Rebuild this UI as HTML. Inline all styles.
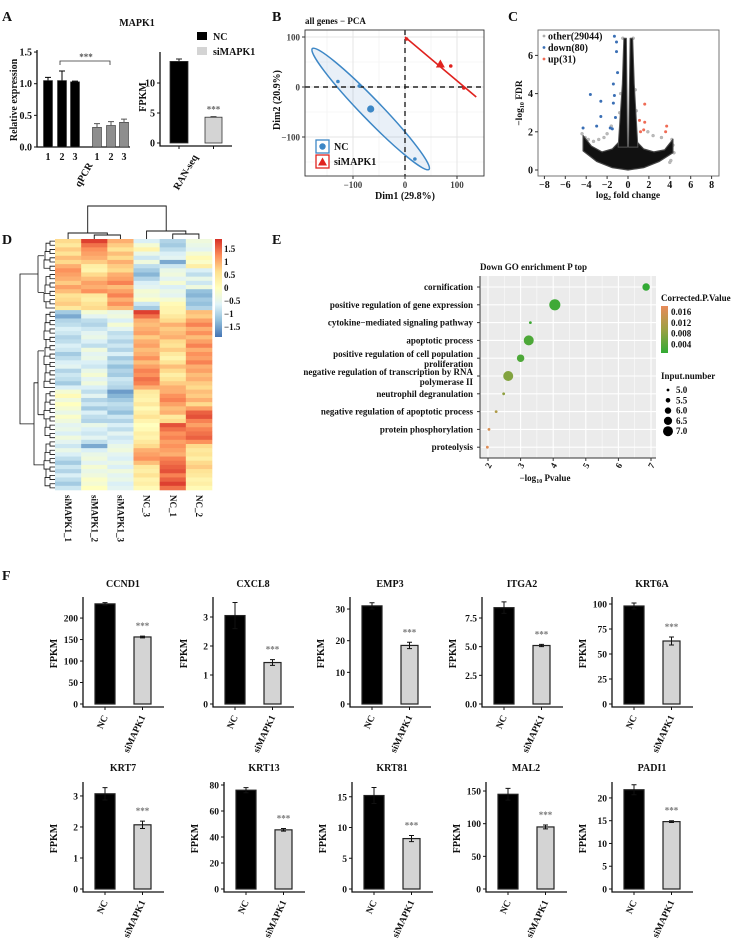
<!DOCTYPE html>
<html><head><meta charset="utf-8"><style>
html,body{margin:0;padding:0;background:#fff;}
svg{display:block;font-family:"Liberation Serif",serif;font-weight:bold;}
</style></head><body>
<svg id="fig" width="744" height="941" viewBox="0 0 744 941" xmlns="http://www.w3.org/2000/svg">
<defs>
<linearGradient id="hmGrad" x1="0" y1="1" x2="0" y2="0">
<stop offset="0" stop-color="#4575B4"/><stop offset="0.1667" stop-color="#91BFDB"/><stop offset="0.333" stop-color="#E0F3F8"/><stop offset="0.5" stop-color="#FFFFBF"/><stop offset="0.667" stop-color="#FEE090"/><stop offset="0.833" stop-color="#FC8D59"/><stop offset="1" stop-color="#D73027"/>
</linearGradient>
<linearGradient id="pGrad" x1="0" y1="0" x2="0" y2="1">
<stop offset="0" stop-color="#e88a5a"/><stop offset="0.5" stop-color="#9ca042"/><stop offset="1" stop-color="#32aa34"/>
</linearGradient>
</defs>
</svg>
<script>
// ---------- DATA ----------
const qpcrNC = [1.05, 1.05, 1.03];
const qpcrNCErr = [0.05, 0.15, 0.01];
const qpcrSi = [0.31, 0.34, 0.39];
const qpcrSiErr = [0.06, 0.06, 0.05];
const qpcrTicks = [0.0, 0.5, 1.0, 1.5];
const qpcrTickLabels = ["0.0", "0.5", "1.0", "1.5"];
const rnaVals = [13.6, 4.3];
const rnaErr = [0.4, 0.08];
const rnaTicks = [0, 5, 10];

const pcaNC = [[-129, 11], [-88, 2], [19, -144]];
const pcaSi = [[3, 96], [88, 42], [113, -2]];
const pcaNCMean = [-66, -44];
const pcaSiMean = [68, 45];
const pcaXTicks = [-100, 0, 100];
const pcaYTicks = [-100, 0, 100];

const volcDown = [[-1.3,7.0],[-1.1,6.7],[-1.1,6.2],[-1.0,5.1],[-1.4,4.5],[-1.3,3.9],[-3.6,3.95],[-2.6,3.6],[-1.4,3.5],[-2.6,2.8],[-1.2,2.75],[-3.0,2.3],[-1.7,2.2],[-1.5,2.15],[-4.3,2.2]];
const volcUp = [[1.6,3.45],[1.1,2.6],[1.6,2.5],[1.2,2.0],[1.5,2.1],[3.7,2.3],[3.6,2.0]];
const volcOther = [[-4.4,1.9],[-4.1,1.7],[-3.8,1.6],[-3.3,1.5],[-2.8,1.6],[-2.3,1.7],[-2.0,1.9],[-1.6,2.3],[4.2,1.6],[4.3,1.3],[4.4,0.9],[4.1,0.5],[4.0,0.4],[3.2,1.7],[2.4,1.8],[1.9,2.0],[-0.5,6.9],[0.5,6.9],[-0.3,6.5],[0.3,6.6],[-0.7,4.0],[0.7,4.2],[-0.8,3.0],[0.8,3.1]];
const volcBowl = [[-4.3,1.8],[-3.5,1.25],[-2.5,0.95],[-1.5,1.1],[-0.8,1.5],[0,1.3],[0.8,1.5],[1.5,1.1],[2.5,0.95],[3.5,1.05],[4.3,1.6],[4.3,0.9],[3.0,0.45],[1.5,0.12],[0,0],[-1.5,0.12],[-3.0,0.45],[-4.3,1.0]];
const volcSpikeL = [[-0.95,1.2],[-0.55,4.5],[-0.4,6.9],[-0.15,6.9],[-0.05,1.2]];
const volcSpikeR = [[0.05,1.2],[0.2,6.9],[0.45,6.9],[0.6,4.5],[0.95,1.2]];
const volcXTicks = [-8,-6,-4,-2,0,2,4,6,8];
const volcYTicks = [0,2,4,6];

const hmCols = ["siMAPK1_1","siMAPK1_2","siMAPK1_3","NC_3","NC_1","NC_2"];
const hmRows = [
[0.6,1.6,0.9,-0.6,-0.9,-0.3],[0.4,1.3,0.7,-0.2,-1.0,-0.4],[0.7,1.1,0.5,0.2,-0.8,-0.5],[0.5,1.0,0.8,-0.4,-0.6,-0.2],
[0.8,0.9,0.6,-0.7,-0.5,0.1],[0.6,0.7,0.9,-0.3,-1.3,-0.1],[0.9,0.3,0.7,-0.8,-0.7,0.3],[1.1,0.2,0.6,-1.0,-0.4,-0.6],
[1.0,0.6,0.9,-1.2,-0.3,-0.8],[0.9,0.8,1.0,-0.9,-0.5,-0.4],[0.7,1.0,1.2,-0.6,-0.2,-0.7],[1.0,0.9,0.8,-0.5,-0.6,-0.3],
[0.8,1.1,1.0,-0.2,-0.4,-1.1],[0.5,0.4,1.2,-0.3,-0.5,-1.2],[0.6,0.3,0.9,-0.1,-0.2,-1.0],[0.7,0.5,1.1,-0.7,0.1,-1.1],
[0.4,0.6,0.8,-1.0,0.2,-0.9],
[-1.0,-0.2,-0.4,1.6,0.2,0.8],[-1.3,-0.5,-0.3,1.3,0.4,0.7],[-0.9,-0.8,-0.6,0.9,0.6,1.0],[-0.8,-0.9,-0.2,0.8,0.9,1.2],
[-0.6,-0.7,-0.5,0.9,0.7,0.9],[-0.7,-0.5,-0.8,1.0,0.8,1.1],[-0.9,-0.4,-0.7,0.7,0.9,0.8],[-0.8,-0.6,-0.9,0.9,0.6,1.0],
[-0.6,-0.8,-0.7,1.0,0.5,1.2],[-0.7,-0.3,-0.9,0.8,0.7,0.9],[-1.0,-0.5,-0.6,0.9,0.4,1.1],[-0.8,-0.4,-1.0,1.1,0.2,1.0],
[-0.6,-0.6,-0.8,0.8,0.5,1.2],[-0.5,-0.7,-1.1,1.0,0.8,0.9],[-0.9,-0.4,-0.9,1.2,0.6,1.0],[-0.7,-0.2,-1.0,1.1,0.3,0.8],
[-0.8,-0.5,-0.7,1.3,0.5,0.9],[-1.0,-0.3,-0.8,1.2,0.7,0.7],[-0.6,-0.6,-0.9,0.9,0.9,0.6],[-0.2,-0.8,-1.4,0.4,0.9,0.8],
[0.1,-0.5,-1.2,0.3,1.1,0.7],[-0.3,-0.9,-1.0,0.2,1.2,0.9],[0.0,-0.7,-0.8,0.4,1.0,0.6],[-0.2,-1.0,-0.9,0.1,0.8,1.0],
[-0.4,-0.6,-1.1,0.3,0.9,1.4],[-0.1,-0.8,-0.7,0.5,0.4,1.5],[-0.3,-0.9,-0.9,0.2,0.6,1.2],[-0.5,-0.4,-0.6,0.0,1.5,1.0],
[-0.4,-0.6,-0.8,0.1,1.3,1.2],[-0.6,-0.7,-0.5,0.3,1.1,1.3],[-0.3,-0.5,-0.7,0.2,1.2,1.4],[-0.5,-0.8,-0.6,0.4,1.0,1.1],
[-0.7,-1.3,-0.4,0.6,1.1,0.6],[-0.4,-0.6,-0.3,0.9,1.0,0.4],[-0.6,-0.4,-0.5,1.0,0.9,0.5],[-0.8,-0.3,-0.6,1.1,1.2,0.3],
[-1.0,-0.5,-0.4,0.8,1.3,0.6],[-0.7,-0.2,-0.6,0.4,1.4,0.7],[-0.9,-0.4,-0.3,0.3,1.5,0.5],[-0.6,-0.3,-0.5,0.5,1.2,0.4],
[-0.8,-0.1,-0.4,0.2,1.4,0.2],[-1.0,-0.2,-0.6,0.3,1.6,0.3],[-0.7,0.0,-0.5,0.1,1.3,0.1]];
const hmLegendTicks = [1.5,1,0.5,0,-0.5,-1,-1.5];
const hmLegendLabels = ["1.5","1","0.5","0","\u22120.5","\u22121","\u22121.5"];

const goTerms = [["cornification"],["positive regulation of gene expression"],["cytokine\u2212mediated signaling pathway"],["apoptotic process"],["positive regulation of cell population","proliferation"],["negative regulation of transcription by RNA","polymerase II"],["neutrophil degranulation"],["negative regulation of apoptotic process"],["protein phosphorylation"],["proteolysis"]];
const goLogP = [6.85, 4.05, 3.3, 3.25, 3.0, 2.62, 2.48, 2.25, 2.03, 1.98];
const goCount = [6.3, 7.3, 5.0, 7.0, 6.3, 7.0, 5.0, 5.0, 5.0, 5.0];
const goPadj = [0.002, 0.003, 0.003, 0.004, 0.004, 0.008, 0.009, 0.012, 0.016, 0.017];
const goXTicks = [2,3,4,5,6,7];
const goPLegend = [0.016, 0.012, 0.008, 0.004];
const goSizeLegend = [5.0, 5.5, 6.0, 6.5, 7.0];

const geneNames = ["CCND1","CXCL8","EMP3","ITGA2","KRT6A","KRT7","KRT13","KRT81","MAL2","PADI1"];
const ncVals = [233, 3.05, 31, 8.4, 98, 3.07, 76, 15.2, 145, 21.8];
const ncErr = [3, 0.45, 1, 0.5, 3, 0.2, 2, 1.3, 9, 1.1];
const siVals = [156, 1.43, 18.5, 5.1, 63, 2.07, 45.5, 8.2, 95, 14.8];
const siErr = [2, 0.1, 1, 0.1, 4, 0.12, 1, 0.5, 3, 0.2];
const geneTicks = [[0,50,100,150,200],[0,1,2,3],[0,10,20,30],[0,2.5,5,7.5],[0,25,50,75,100],[0,1,2,3],[0,20,40,60,80],[0,5,10,15],[0,50,100,150],[0,5,10,15,20]];
const geneTickLabels = [["0","50","100","150","200"],["0","1","2","3"],["0","10","20","30"],["0.0","2.5","5.0","7.5"],["0","25","50","75","100"],["0","1","2","3"],["0","20","40","60","80"],["0","5","10","15"],["0","50","100","150"],["0","5","10","15","20"]];
const geneYMax = [249, 3.69, 33.8, 9.33, 107, 3.45, 82.3, 17.4, 163.8, 23.5];

// ---------- HELPERS ----------
const NS = "http://www.w3.org/2000/svg";
const svg = document.getElementById('fig');
function mk(tag, attrs, parent) {
  const e = document.createElementNS(NS, tag);
  for (const k in attrs) e.setAttribute(k, attrs[k]);
  (parent || svg).appendChild(e);
  return e;
}
function tx(x, y, s, attrs, parent) {
  const a = Object.assign({x: x, y: y, 'font-size': 10, fill: '#111'}, attrs || {});
  const e = mk('text', a, parent);
  e.textContent = s;
  return e;
}
function grp(parent) { return mk('g', {}, parent); }

// ---------- PANEL LETTERS ----------
[["A",2,21],["B",272,21],["C",508,21],["D",2,244],["E",272,244],["F",2,580]].forEach(p => {
  const t = tx(p[1], p[2], p[0], {'font-size': 14});
  
  
});

// ---------- PANEL A ----------
const gA = grp();


{
  const t = tx(137, 26, "MAPK1", {'text-anchor': 'middle', 'font-size': 10}, gA);
  
  
  const yq = v => 147 - v * 63.3;
  const ax = mk('path', {d: 'M37,50 V147 H130', stroke: '#111', 'stroke-width': 1.3, fill: 'none'}, gA);
  
  
  qpcrTicks.forEach((v, i) => {
    mk('line', {x1: 34, x2: 37, y1: yq(v), y2: yq(v), stroke: '#111'}, gA);
    const t = tx(32, yq(v) + 3.5, qpcrTickLabels[i], {'text-anchor': 'end', 'font-size': 10}, gA);
    
    
  });
  const yl = tx(0, 0, "Relative expression", {'text-anchor': 'middle', 'font-size': 10, transform: 'translate(17,100) rotate(-90)'}, gA);
  
  
  const xsNC = [48, 62, 75], xsSi = [97, 111, 124];
  const drawBar = (cx, v, err, fill, name) => {
    const b = mk('rect', {x: cx - 4.5, y: yq(v), width: 9, height: yq(0) - yq(v), fill: fill, stroke: '#333', 'stroke-width': 0.6}, gA);
    
    
    const e = mk('path', {d: `M${cx},${yq(v)} V${yq(v + err)} M${cx - 3},${yq(v + err)} H${cx + 3}`, stroke: fill === '#000' ? '#000' : '#555', 'stroke-width': 1}, gA);
    
    
  };
  qpcrNC.forEach((v, i) => drawBar(xsNC[i], v, qpcrNCErr[i], '#000', 'qpcr-bar-nc-' + (i + 1)));
  qpcrSi.forEach((v, i) => drawBar(xsSi[i], v, qpcrSiErr[i], '#8e8e8e', 'qpcr-bar-si-' + (i + 1)));
  xsNC.concat(xsSi).forEach((cx, i) => {
    const t = tx(cx, 160, String(i % 3 + 1), {'text-anchor': 'middle', 'font-size': 10}, gA);
    
    
  });
  const br = mk('path', {d: 'M60,65 V61 H110 V65', stroke: '#333', fill: 'none', 'stroke-width': 0.8}, gA);
  
  
  const st = tx(86, 60, "***", {'text-anchor': 'middle', 'font-size': 9, fill: '#555'}, gA);
  
  
  const ql = tx(0, 0, "qPCR", {'text-anchor': 'end', 'font-size': 10, transform: 'translate(93,165) rotate(-60)'}, gA);
  
  

  const yr = v => 143 - v * 6;
  const ax2 = mk('path', {d: 'M160,52 V146 H232', stroke: '#111', 'stroke-width': 1.3, fill: 'none'}, gA);
  
  
  rnaTicks.forEach(v => {
    mk('line', {x1: 157, x2: 160, y1: yr(v), y2: yr(v), stroke: '#111'}, gA);
    const t = tx(155, yr(v) + 3.5, String(v), {'text-anchor': 'end', 'font-size': 10}, gA);
    
    
  });
  const fl = tx(0, 0, "FPKM", {'text-anchor': 'middle', 'font-size': 10, transform: 'translate(146,97) rotate(-90)'}, gA);
  
  
  const rx = [179, 213.5], rw = [18, 17];
  rnaVals.forEach((v, i) => {
    const b = mk('rect', {x: rx[i] - rw[i] / 2, y: yr(v), width: rw[i], height: yr(0) - yr(v), fill: i ? '#d4d4d4' : '#000', stroke: '#333', 'stroke-width': 0.8}, gA);
    
    
    const e = mk('path', {d: `M${rx[i]},${yr(v)} V${yr(v + rnaErr[i])} M${rx[i] - 3},${yr(v + rnaErr[i])} H${rx[i] + 3}`, stroke: '#222', 'stroke-width': 1}, gA);
    
    
  });
  const st2 = tx(213.5, yr(rnaVals[1] + rnaErr[1]) - 4, "***", {'text-anchor': 'middle', 'font-size': 9, fill: '#666'}, gA);
  
  
  mk('line', {x1: 179, x2: 179, y1: 146, y2: 149, stroke: '#111'}, gA);
  mk('line', {x1: 213.5, x2: 213.5, y1: 146, y2: 149, stroke: '#111'}, gA);
  const rl = tx(0, 0, "RAN-seq", {'text-anchor': 'end', 'font-size': 10, transform: 'translate(198,157) rotate(-60)'}, gA);
  
  
  const l1 = mk('rect', {x: 197, y: 32, width: 10, height: 8, fill: '#000'}, gA);
  
  
  const l2 = mk('rect', {x: 197, y: 47, width: 10, height: 8, fill: '#d4d4d4'}, gA);
  
  
  const lt1 = tx(213, 40, "NC", {'font-size': 10}, gA);
  
  
  const lt2 = tx(213, 55, "siMAPK1", {'font-size': 10}, gA);
  
  
}

// ---------- PANEL B (PCA) ----------
const gB = grp();


{
  const px = v => 405 + v * 0.52, py = v => 87 - v * 0.5;
  const tt = tx(305, 24, "all genes \u2212 PCA", {'font-size': 9}, gB);
  
  
  [-150, -50, 50].forEach(v => mk('line', {x1: px(v), x2: px(v), y1: 30, y2: 176, stroke: '#f0f0f0', 'stroke-width': 0.6}, gB));
  [-150, -50, 50].forEach(v => mk('line', {x1: 305, x2: 484, y1: py(v), y2: py(v), stroke: '#f0f0f0', 'stroke-width': 0.6}, gB));
  pcaXTicks.forEach(v => mk('line', {x1: px(v), x2: px(v), y1: 30, y2: 176, stroke: '#e4e4e4', 'stroke-width': 1}, gB));
  pcaYTicks.forEach(v => mk('line', {x1: 305, x2: 484, y1: py(v), y2: py(v), stroke: '#e4e4e4', 'stroke-width': 1}, gB));
  const cx = px(pcaNCMean[0]), cy = py(pcaNCMean[1]);
  const el = mk('ellipse', {cx: cx, cy: cy, rx: 84, ry: 10, transform: `rotate(46 ${cx} ${cy})`, fill: 'rgba(70,130,200,0.12)', stroke: '#3d87c6', 'stroke-width': 1.5}, gB);
  
  
  const rlne = mk('line', {x1: px(0), y1: py(100), x2: px(137), y2: py(-20), stroke: '#e0221e', 'stroke-width': 1.6}, gB);
  
  
  const dv = mk('line', {x1: px(0), x2: px(0), y1: 30, y2: 176, stroke: '#222', 'stroke-width': 1.4, 'stroke-dasharray': '5,4'}, gB);
  
  
  const dh = mk('line', {x1: 305, x2: 484, y1: py(0), y2: py(0), stroke: '#222', 'stroke-width': 1.4, 'stroke-dasharray': '5,4'}, gB);
  
  
  pcaNC.forEach(p => {
    const c = mk('circle', {cx: px(p[0]), cy: py(p[1]), r: 1.8, fill: '#3d87c6'}, gB);
    
    
  });
  const mc = mk('circle', {cx: cx, cy: cy, r: 3.6, fill: '#3d87c6'}, gB);
  
  
  pcaSi.forEach(p => {
    const c = mk('circle', {cx: px(p[0]), cy: py(p[1]), r: 1.8, fill: '#e0221e'}, gB);
    
    
  });
  const sx = px(pcaSiMean[0]), sy = py(pcaSiMean[1]);
  const tri = mk('path', {d: `M${sx},${sy - 5} L${sx + 4.5},${sy + 3} L${sx - 4.5},${sy + 3} Z`, fill: '#e0221e'}, gB);
  
  
  const box = mk('rect', {x: 305, y: 30, width: 179, height: 146, fill: 'none', stroke: '#333', 'stroke-width': 0.9}, gB);
  
  
  pcaYTicks.forEach(v => {
    mk('line', {x1: 302, x2: 305, y1: py(v), y2: py(v), stroke: '#333'}, gB);
    const t = tx(300, py(v) + 3.5, v < 0 ? "\u2212" + (-v) : String(v), {'text-anchor': 'end', 'font-size': 9, fill: '#444'}, gB);
    
    
  });
  pcaXTicks.forEach(v => {
    mk('line', {x1: px(v), x2: px(v), y1: 176, y2: 179, stroke: '#333'}, gB);
    const t = tx(px(v), 188, v < 0 ? "\u2212" + (-v) : String(v), {'text-anchor': 'middle', 'font-size': 9, fill: '#444'}, gB);
    
    
  });
  const xl = tx(405, 199, "Dim1 (29.8%)", {'text-anchor': 'middle', 'font-size': 10}, gB);
  
  
  const yl = tx(0, 0, "Dim2 (20.9%)", {'text-anchor': 'middle', 'font-size': 10, transform: 'translate(280,100) rotate(-90)'}, gB);
  
  
  const lb1 = mk('rect', {x: 316, y: 140, width: 13, height: 13, fill: '#fff', stroke: '#3d87c6', 'stroke-width': 1.3}, gB);
  
  
  mk('circle', {cx: 322.5, cy: 146.5, r: 3.2, fill: '#3d87c6'}, gB);
  const lb2 = mk('rect', {x: 316, y: 155, width: 13, height: 13, fill: '#fff', stroke: '#e0221e', 'stroke-width': 1.3}, gB);
  
  
  mk('path', {d: 'M322.5,157.5 L327,165.5 L318,165.5 Z', fill: '#e0221e'}, gB);
  const lt1 = tx(334, 150, "NC", {'font-size': 10}, gB);
  
  
  const lt2 = tx(334, 165, "siMAPK1", {'font-size': 10}, gB);
  
  
}

// ---------- PANEL C (Volcano) ----------
const gC = grp();


{
  const vx = v => 628 + v * 10.45, vy = v => 170 - v * 19.1;
  const box = mk('rect', {x: 538, y: 30, width: 181, height: 146, fill: '#fff', stroke: '#666', 'stroke-width': 0.9}, gC);
  
  
  volcOther.forEach(p => {
    const c = mk('circle', {cx: vx(p[0]), cy: vy(p[1]), r: 1.5, fill: '#bbb', stroke: '#999', 'stroke-width': 0.3}, gC);
    
    
  });
  const poly = arr => 'M' + arr.map(p => vx(p[0]).toFixed(1) + ',' + vy(p[1]).toFixed(1)).join(' L') + ' Z';
  const bowl = mk('path', {d: poly(volcBowl), fill: '#111', stroke: '#444', 'stroke-width': 1.2, 'stroke-linejoin': 'round'}, gC);
  
  
  const sl = mk('path', {d: poly(volcSpikeL), fill: '#111', stroke: '#555', 'stroke-width': 1, 'stroke-linejoin': 'round'}, gC);
  
  
  const sr = mk('path', {d: poly(volcSpikeR), fill: '#111', stroke: '#555', 'stroke-width': 1, 'stroke-linejoin': 'round'}, gC);
  
  
  volcDown.forEach(p => {
    const c = mk('circle', {cx: vx(p[0]), cy: vy(p[1]), r: 1.5, fill: '#3a6fb5'}, gC);
    
    
  });
  volcUp.forEach(p => {
    const c = mk('circle', {cx: vx(p[0]), cy: vy(p[1]), r: 1.5, fill: '#ef6b55'}, gC);
    
    
  });
  volcXTicks.forEach(v => {
    mk('line', {x1: vx(v), x2: vx(v), y1: 176, y2: 179, stroke: '#333'}, gC);
    const t = tx(vx(v), 188, v < 0 ? "\u2212" + (-v) : String(v), {'text-anchor': 'middle', 'font-size': 10}, gC);
    
    
  });
  volcYTicks.forEach(v => {
    mk('line', {x1: 535, x2: 538, y1: vy(v), y2: vy(v), stroke: '#333'}, gC);
    const t = tx(533, vy(v) + 3.5, String(v), {'text-anchor': 'end', 'font-size': 10}, gC);
    
    
  });
  const xl = mk('text', {x: 628, y: 198, 'text-anchor': 'middle', 'font-size': 9.5, fill: '#111'}, gC);
  xl.innerHTML = 'log<tspan font-size="6" dy="2">2</tspan><tspan dy="-2"> fold change</tspan>';
  
  
  const yl = mk('text', {'text-anchor': 'middle', 'font-size': 9.5, fill: '#111', transform: 'translate(522,103) rotate(-90)'}, gC);
  yl.innerHTML = '\u2212log<tspan font-size="6" dy="2">10</tspan><tspan dy="-2"> FDR</tspan>';
  
  
  [["other(29044)", '#aaa'], ["down(80)", '#3a6fb5'], ["up(31)", '#ef6b55']].forEach((l, i) => {
    const c = mk('circle', {cx: 544, cy: 36 + i * 11.5, r: 1.4, fill: l[1]}, gC);
    
    
    const t = tx(548, 39.5 + i * 11.5, l[0], {'font-size': 10}, gC);
    
    
  });
}

// ---------- PANEL D (Heatmap) ----------
const gD = grp();


{
  const stops = [[-1.7,[69,117,180]],[-1.133,[145,191,219]],[-0.567,[224,243,248]],[0,[255,255,191]],[0.567,[254,224,144]],[1.133,[252,141,89]],[1.7,[215,48,39]]];
  const col = v => {
    v = Math.max(-1.7, Math.min(1.7, v));
    for (let i = 0; i < stops.length - 1; i++) {
      if (v <= stops[i + 1][0]) {
        const t = (v - stops[i][0]) / (stops[i + 1][0] - stops[i][0]);
        const a = stops[i][1], b = stops[i + 1][1];
        return `rgb(${Math.round(a[0] + (b[0] - a[0]) * t)},${Math.round(a[1] + (b[1] - a[1]) * t)},${Math.round(a[2] + (b[2] - a[2]) * t)})`;
      }
    }
    return 'rgb(215,48,39)';
  };
  const x0 = 55, y0 = 239, cw = 157 / hmCols.length, rh = 251 / hmRows.length;
  hmRows.forEach((row, r) => row.forEach((v, c) => {
    const cell = mk('rect', {x: x0 + c * cw, y: y0 + r * rh, width: cw + 0.3, height: rh + 0.3, fill: col(v)}, gD);
    
    
  }));
  hmCols.forEach((n, c) => {
    const t = tx(0, 0, n, {'font-size': 9, transform: `translate(${x0 + c * cw + cw / 2 - 3},495) rotate(90)`}, gD);
    
    
  });
  const cxs = hmCols.map((n, c) => x0 + c * cw + cw / 2);
  const td = mk('path', {d: `M${cxs[1]},239 V235 H${cxs[2]} V239 M${cxs[0]},239 V233 H${(cxs[1] + cxs[2]) / 2} V235 M${cxs[4]},239 V234 H${cxs[5]} V239 M${cxs[3]},239 V231 H${(cxs[4] + cxs[5]) / 2} V234 M${(cxs[0] + (cxs[1] + cxs[2]) / 2) / 2},233 V206 H${(cxs[3] + (cxs[4] + cxs[5]) / 2) / 2} V231`, stroke: '#111', fill: 'none', 'stroke-width': 0.9}, gD);
  
  
  let d = '';
  const leaf = i => y0 + i * rh + rh / 2;
  const sub = [[0,8],[8,17],[17,36],[36,48],[48,hmRows.length]];
  const mids = [];
  sub.forEach(s => {
    const ys = [];
    for (let i = s[0]; i < s[1]; i += 2) {
      const ya = leaf(i), yb = leaf(Math.min(i + 1, s[1] - 1));
      d += `M55,${ya} H50 V${yb} H55 `;
      ys.push((ya + yb) / 2);
    }
    for (let k = 0; k < ys.length - 1; k++) d += `M50,${ys[k]} H${46 - (k % 3)} V${ys[k + 1]} H50 `;
    const m = (ys[0] + ys[ys.length - 1]) / 2;
    d += `M${46 - 2},${m} H38 `;
    mids.push(m);
  });
  d += `M38,${mids[0]} V${mids[1]} M38,${(mids[0]+mids[1])/2} H30 M38,${mids[2]} V${mids[3]} M38,${(mids[2]+mids[3])/2} H34 V${mids[4]} H38 M34,${((mids[2]+mids[3])/2+mids[4])/2} H26 `;
  const ta = (mids[0]+mids[1])/2, tb = ((mids[2]+mids[3])/2+mids[4])/2;
  d += `M30,${ta} H20 V${tb} H26`;
  const ld = mk('path', {d: d, stroke: '#111', fill: 'none', 'stroke-width': 0.8}, gD);
  
  
  const cb = mk('rect', {x: 215, y: 239, width: 7, height: 98, fill: 'url(#hmGrad)'}, gD);
  
  
  const ly = v => 288 - v * 26;
  hmLegendTicks.forEach((v, i) => {
    const t = tx(224, ly(v) + 3, hmLegendLabels[i], {'font-size': 9}, gD);
    
    
  });
}

// ---------- PANEL E (GO dotplot) ----------
const gE = grp();


{
  const ex = v => 488 + (v - 2) * 32.6;
  const ey = i => 287 + i * 17.8;
  const bg = mk('rect', {x: 480, y: 276, width: 176, height: 182, fill: '#ebebeb'}, gE);
  
  
  goXTicks.forEach(v => mk('line', {x1: ex(v + 0.5), x2: ex(v + 0.5), y1: 276, y2: 458, stroke: '#fff', 'stroke-width': 0.5}, gE));
  goXTicks.forEach(v => mk('line', {x1: ex(v), x2: ex(v), y1: 276, y2: 458, stroke: '#fff', 'stroke-width': 1.1}, gE));
  goTerms.forEach((t, i) => mk('line', {x1: 480, x2: 656, y1: ey(i), y2: ey(i), stroke: '#fff', 'stroke-width': 1.1}, gE));
  const title = tx(480, 270, "Down GO enrichment P top", {'font-size': 9}, gE);
  
  
  const pc = p => {
    const t = Math.max(0, Math.min(1, (p - 0.002) / 0.016));
    const a = [50,170,52], m = [156,160,66], b = [232,138,90];
    const lerp = (u, w, s) => Math.round(u + (w - u) * s);
    return t < 0.5 ? `rgb(${lerp(a[0],m[0],t*2)},${lerp(a[1],m[1],t*2)},${lerp(a[2],m[2],t*2)})` : `rgb(${lerp(m[0],b[0],t*2-1)},${lerp(m[1],b[1],t*2-1)},${lerp(m[2],b[2],t*2-1)})`;
  };
  const rs = n => 1.4 + (n - 5) * 1.8;
  goTerms.forEach((lines, i) => {
    lines.forEach((l, k) => {
      const t = tx(473, ey(i) + 3 + (lines.length === 2 ? (k === 0 ? -4 : 6) : 0), l, {'text-anchor': 'end', 'font-size': 9}, gE);
      
      
    });
    mk('line', {x1: 477, x2: 480, y1: ey(i), y2: ey(i), stroke: '#333'}, gE);
    const c = mk('circle', {cx: ex(goLogP[i]), cy: ey(i), r: rs(goCount[i]), fill: pc(goPadj[i])}, gE);
    
    
  });
  const axl = mk('path', {d: 'M480,276 V458 H656', stroke: '#333', fill: 'none', 'stroke-width': 1}, gE);
  
  
  goXTicks.forEach(v => {
    mk('line', {x1: ex(v), x2: ex(v), y1: 458, y2: 461, stroke: '#333'}, gE);
    const t = tx(0, 0, String(v), {'font-size': 9, 'text-anchor': 'middle', transform: `translate(${ex(v) + 3},467) rotate(-60)`}, gE);
    
    
  });
  const xl = mk('text', {x: 545, y: 481, 'text-anchor': 'middle', 'font-size': 9, fill: '#111'}, gE);
  xl.innerHTML = '\u2212log<tspan font-size="6" dy="2">10</tspan><tspan dy="-2"> Pvalue</tspan>';
  
  
  const lt = tx(661, 301, "Corrected.P.Value", {'font-size': 9}, gE);
  
  
  const gb = mk('rect', {x: 661, y: 306, width: 7, height: 47, fill: 'url(#pGrad)'}, gE);
  
  
  goPLegend.forEach((p, i) => {
    const t = tx(671, 315 + i * 10.8, p.toFixed(3), {'font-size': 9}, gE);
    
    
  });
  const st = tx(661, 379, "Input.number", {'font-size': 9}, gE);
  
  
  goSizeLegend.forEach((n, i) => {
    const cy = 390 + i * 10.3;
    const c = mk('circle', {cx: 668, cy: cy, r: rs(n), fill: '#000'}, gE);
    
    
    const t = tx(676, cy + 3, n.toFixed(1), {'font-size': 9}, gE);
    
    
  });
}

// ---------- PANEL F (gene bar charts) ----------
const axisXs = [83, 213, 350, 482, 612, 83, 224, 352, 486, 612];
geneNames.forEach((g, gi) => {
  const gF = grp();
  
  
  const ax = axisXs[gi];
  const row = gi < 5 ? 0 : 1;
  const y0 = row ? 889 : 704, top = row ? 782 : 597, base = y0 + 3;
  const fy = v => y0 - v * (y0 - top) / geneYMax[gi];
  const t = tx(ax + 40, row ? 771 : 587, g, {'text-anchor': 'middle', 'font-size': 10}, gF);
  
  
  const axes = mk('path', {d: `M${ax},${top} V${base} H${ax + 81}`, stroke: '#111', 'stroke-width': 1.3, fill: 'none'}, gF);
  
  
  geneTicks[gi].forEach((v, k) => {
    mk('line', {x1: ax - 3, x2: ax, y1: fy(v), y2: fy(v), stroke: '#111'}, gF);
    const tl = tx(ax - 5, fy(v) + 3.5, geneTickLabels[gi][k], {'text-anchor': 'end', 'font-size': 9.5}, gF);
    
    
  });
  const yl = tx(0, 0, "FPKM", {'text-anchor': 'middle', 'font-size': 10, transform: `translate(${ax - 26},${(top + y0) / 2 + 3}) rotate(-90)`}, gF);
  
  
  const bars = [[ax + 12, 20, ncVals[gi], ncErr[gi], '#000'], [ax + 51, 17, siVals[gi], siErr[gi], '#d4d4d4']];
  bars.forEach((b, k) => {
    const r = mk('rect', {x: b[0], y: fy(b[2]), width: b[1], height: y0 - fy(b[2]), fill: b[4], stroke: '#222', 'stroke-width': 1.2}, gF);
    
    
    const cx = b[0] + b[1] / 2;
    const e = mk('path', {d: `M${cx},${fy(b[2] - b[3])} V${fy(b[2] + b[3])} M${cx - 2.5},${fy(b[2] + b[3])} H${cx + 2.5} M${cx - 2.5},${fy(b[2] - b[3])} H${cx + 2.5}`, stroke: '#111', 'stroke-width': 1}, gF);
    
    
    mk('line', {x1: cx, x2: cx, y1: base, y2: base + 3, stroke: '#111'}, gF);
    const xl = tx(0, 0, k ? "siMAPK1" : "NC", {'text-anchor': 'end', 'font-size': 9.5, transform: `translate(${cx + 3},${base + 10}) rotate(-65)`}, gF);
    
    
  });
  const st = tx(ax + 59.5, fy(siVals[gi] + siErr[gi]) - 7, "***", {'text-anchor': 'middle', 'font-size': 9, fill: '#777'}, gF);
  
  
});
</script>
</body></html>
